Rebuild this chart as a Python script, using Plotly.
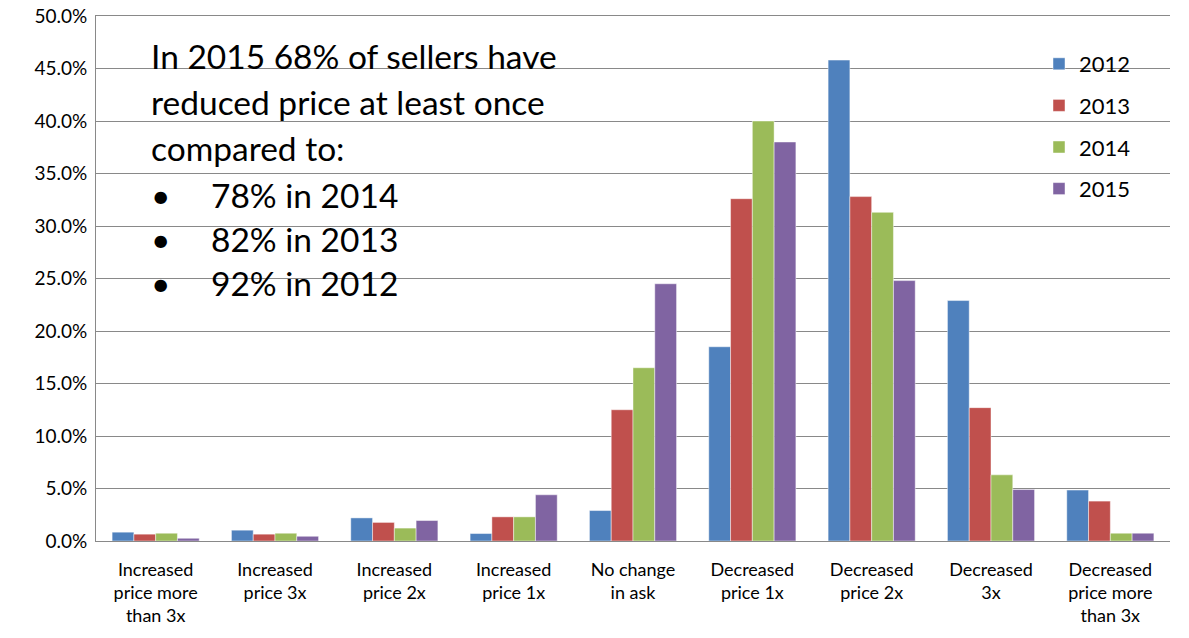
import plotly.graph_objects as go

categories = [
    "Increased<br>price more<br>than 3x",
    "Increased<br>price 3x",
    "Increased<br>price 2x",
    "Increased<br>price 1x",
    "No change<br>in ask",
    "Decreased<br>price 1x",
    "Decreased<br>price 2x",
    "Decreased<br>3x",
    "Decreased<br>price more<br>than 3x",
]
years = ["2012", "2013", "2014", "2015"]
v2012 = [0.84, 1.03, 2.2, 0.71, 2.9, 18.5, 45.8, 22.9, 4.85]
v2013 = [0.65, 0.65, 1.77, 2.3, 12.5, 32.6, 32.8, 12.7, 3.8]
v2014 = [0.74, 0.74, 1.23, 2.3, 16.5, 40.0, 31.3, 6.3, 0.74]
v2015 = [0.26, 0.45, 1.95, 4.4, 24.5, 38.0, 24.8, 4.9, 0.74]
colors = ["#4F81BD", "#C0504D", "#9BBB59", "#8064A2"]
y_ticks = [0, 5, 10, 15, 20, 25, 30, 35, 40, 45, 50]

note_lines = [
    "In 2015 68% of sellers have",
    "reduced price at least once",
    "compared to:",
]
bullet_lines = ["78% in 2014", "82% in 2013", "92% in 2012"]

FONT = "Lato, 'Open Sans', sans-serif"
GRID = "#898989"

fig = go.Figure()
for yr, vals, col in zip(years, [v2012, v2013, v2014, v2015], colors):
    fig.add_trace(go.Bar(
        x=categories, y=vals, name=yr, legendgroup=yr,
        marker=dict(color=col, line=dict(color="rgba(255,255,255,0.45)", width=1)),
    ))

# the body margin is removed after render, so the figure sits at page (0, 0)
W, H = 1189, 638
L, R, T, B = 96, 19, 16, 97
pw, ph = W - L - R, H - T - B

def px(xp):
    return (xp - L) / pw

def py(yp):
    return (H - B - yp) / ph

annotations = []
TXT = dict(family=FONT, size=33.5, color="#000000")
for i, line in enumerate(note_lines):
    annotations.append(dict(
        text=line, x=px(149), y=py(56 + 46 * i), xref="paper", yref="paper",
        xanchor="left", yanchor="middle", showarrow=False, font=TXT,
    ))
for i, line in enumerate(bullet_lines):
    yy = py(195 + 44 * i)
    annotations.append(dict(
        text="•", x=px(149), y=yy, xref="paper", yref="paper",
        xanchor="left", yanchor="middle", showarrow=False, font=TXT,
    ))
    annotations.append(dict(
        text=line, x=px(209), y=yy, xref="paper", yref="paper",
        xanchor="left", yanchor="middle", showarrow=False, font=TXT,
    ))

fig.update_layout(
    width=W, height=H,
    margin=dict(l=L, r=R, t=T, b=B, pad=0),
    paper_bgcolor="white", plot_bgcolor="white",
    barmode="group", bargap=0.27, bargroupgap=0,
    font=dict(family=FONT, color="#000000"),
    legend=dict(
        x=px(1039), y=py(43), xanchor="left", yanchor="top",
        font=dict(family=FONT, size=22, color="#000000"),
        bgcolor="rgba(0,0,0,0)", tracegroupgap=10,
        itemwidth=30,
    ),
    annotations=annotations,
    xaxis=dict(
        showline=True, linecolor=GRID, linewidth=1, mirror=True,
        showgrid=False, ticks="",
        tickfont=dict(family=FONT, size=18, color="#000000"),
        ticklabelstandoff=12,
        automargin=False,
    ),
    yaxis=dict(
        range=[0, 50], tickvals=y_ticks,
        ticktext=[f"{v:.1f}%" for v in y_ticks],
        showgrid=True, gridcolor=GRID, gridwidth=1,
        showline=True, linecolor=GRID, linewidth=1,
        ticks="", ticklabelstandoff=4, ticklabeloverflow="allow",
        zeroline=True, zerolinecolor=GRID, zerolinewidth=1,
        tickfont=dict(family=FONT, size=19, color="#000000"),
        automargin=False,
    ),
)

fig.write_html(
    "out.html",
    config={"displayModeBar": False},
    post_script="document.body.style.margin='0';document.body.style.padding='0';",
)
